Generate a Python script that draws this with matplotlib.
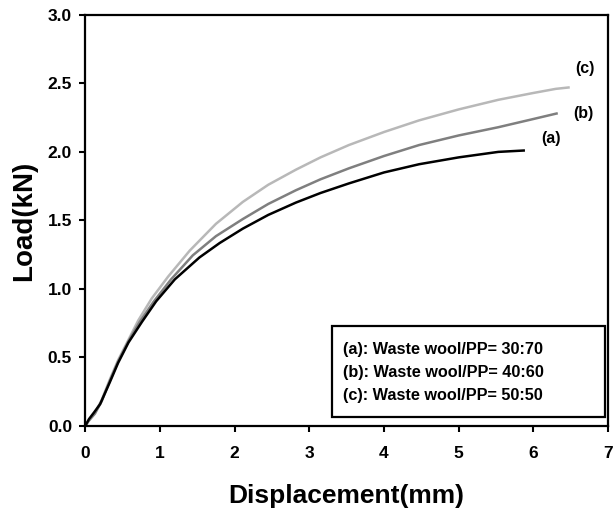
import numpy as np
import matplotlib
matplotlib.use("Agg")
import matplotlib.pyplot as plt
from matplotlib.patches import Rectangle

plt.rcParams['font.family'] = ['Liberation Sans', 'DejaVu Sans']
plt.rcParams['font.weight'] = 'bold'

# ── data ─────────────────────────────────────────────────────────────────────
x_a = [0, 0.05, 0.12, 0.2, 0.33, 0.44, 0.58, 0.76, 0.95, 1.2, 1.53, 1.8, 2.11,
       2.45, 2.82, 3.15, 3.53, 4.0, 4.47, 5.0, 5.53, 5.87]
y_a = [0, 0.05, 0.10, 0.16, 0.32, 0.46, 0.61, 0.76, 0.91, 1.07, 1.23, 1.335, 1.44,
       1.54, 1.63, 1.70, 1.77, 1.85, 1.91, 1.96, 2.00, 2.01]

x_b = [0, 0.05, 0.13, 0.22, 0.33, 0.44, 0.58, 0.73, 0.92, 1.15, 1.44, 1.75, 2.11,
       2.45, 2.82, 3.15, 3.53, 4.0, 4.47, 5.0, 5.53, 6.0, 6.31]
y_b = [0, 0.04, 0.09, 0.18, 0.33, 0.47, 0.62, 0.76, 0.91, 1.07, 1.245, 1.385, 1.51,
       1.62, 1.72, 1.80, 1.88, 1.97, 2.05, 2.12, 2.18, 2.24, 2.28]

x_c = [0, 0.05, 0.13, 0.22, 0.33, 0.44, 0.58, 0.71, 0.89, 1.11, 1.4, 1.75, 2.11,
       2.45, 2.82, 3.15, 3.53, 4.0, 4.47, 5.0, 5.53, 6.0, 6.3, 6.47]
y_c = [0, 0.04, 0.095, 0.19, 0.34, 0.48, 0.63, 0.77, 0.93, 1.09, 1.28, 1.475, 1.635,
       1.76, 1.87, 1.96, 2.05, 2.145, 2.23, 2.31, 2.38, 2.43, 2.46, 2.47]

curve_tags = ['(a)', '(b)', '(c)']
tag_pos = [(6.24, 2.10), (6.67, 2.28), (6.69, 2.61)]
legend_lines = ['(a): Waste wool/PP= 30:70',
                '(b): Waste wool/PP= 40:60',
                '(c): Waste wool/PP= 50:50']

fig = plt.figure(figsize=(6.13, 5.12), dpi=100)
ax = fig.add_axes([0.139, 0.168, 0.853, 0.803])

ax.plot(x_c, y_c, color='#b8b8b8', lw=1.8)
ax.plot(x_b, y_b, color='#7f7f7f', lw=1.8)
ax.plot(x_a, y_a, color='black', lw=1.8)

for tag, (tx, ty) in zip(curve_tags, tag_pos):
    ax.text(tx, ty, tag, fontsize=11.5, fontweight='bold', ha='center', va='center')

ax.set_xlim(0, 7)
ax.set_ylim(0, 3.0)
ax.set_xticks(range(0, 8))
ax.set_yticks(np.arange(0, 3.01, 0.5))
ax.set_yticklabels([f'{v:.1f}' for v in np.arange(0, 3.01, 0.5)])
ax.tick_params(direction='out', length=4.5, width=1.5, labelsize=12.5)
ax.tick_params(axis='x', pad=10)
ax.tick_params(axis='y', pad=5)
for lab in ax.get_xticklabels() + ax.get_yticklabels():
    lab.set_fontweight('bold')
for sp in ax.spines.values():
    sp.set_linewidth(1.6)

ax.set_xlabel('Displacement(mm)', fontsize=19, fontweight='bold')
ax.xaxis.set_label_coords(0.5, -0.142)
ax.set_ylabel('Load(kN)', fontsize=20, fontweight='bold')
ax.yaxis.set_label_coords(-0.092, 0.50)

# legend box with text lines
ax.add_patch(Rectangle((0.472, 0.022), 0.522, 0.221, transform=ax.transAxes,
                       fill=False, edgecolor='black', lw=1.6, zorder=5))
for i, line in enumerate(legend_lines):
    ax.text(0.493, 0.185 - i * 0.056, line, transform=ax.transAxes,
            fontsize=11.7, fontweight='bold', va='center', ha='left')

fig.savefig('out.png', dpi=100)
